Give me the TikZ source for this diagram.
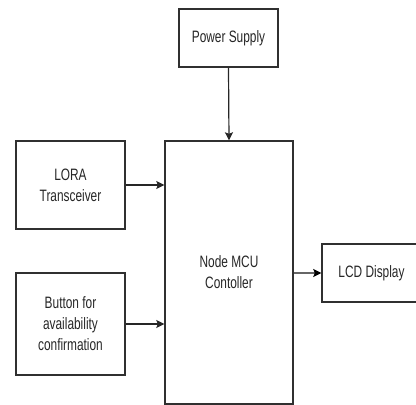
\documentclass[tikz,border=0pt]{standalone}
\usepackage{fontspec}
\setmainfont{Liberation Sans}[FakeStretch=0.72]
\usetikzlibrary{arrows.meta}
\definecolor{boxline}{HTML}{303030}
\definecolor{txt}{HTML}{262626}
\begin{document}
\begin{tikzpicture}[x=1pt,y=-1pt,
  blk/.style={draw=boxline,line width=1.4pt,rectangle,inner sep=0pt,align=center,
    text=txt,font=\fontsize{16.5}{21}\selectfont},
  conn/.style={draw=black!85,line width=1.2pt,-{Stealth[length=8pt,width=8pt,inset=1.5pt]}}]
\useasboundingbox (0,0) rectangle (416,405);
\node[blk,minimum width=99pt,minimum height=58pt] (ps) at (228.5,38) {Power Supply};
\node[blk,minimum width=128pt,minimum height=263pt] (mcu) at (229,272.5) {Node MCU\\Contoller};
\node[blk,minimum width=109pt,minimum height=88pt] (lora) at (70.5,185) {LORA\\Transceiver};
\node[blk,minimum width=109pt,minimum height=102pt] (btn) at (70.5,324) {Button for\\availability\\confirmation};
\node[blk,minimum width=99pt,minimum height=58pt] (lcd) at (371.5,273) {LCD Display};
\draw[conn] (ps.south) -- (mcu.north);
\draw[conn] (lora.east) -- (lora.east -| mcu.west);
\draw[conn] (btn.east) -- (btn.east -| mcu.west);
\draw[conn,draw=black!60,line width=1.8pt,-{Stealth[length=8pt,width=8pt,inset=1.5pt,color=black]}] (lcd.west -| mcu.east) -- (lcd.west);
\end{tikzpicture}
\end{document}
